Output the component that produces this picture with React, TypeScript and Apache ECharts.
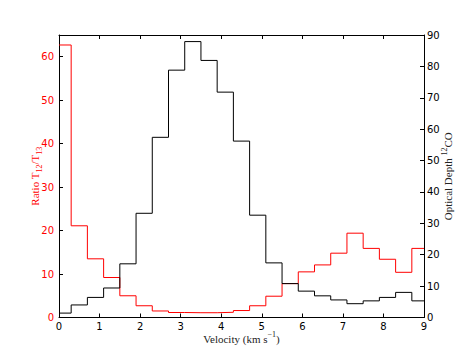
import React, { useEffect, useRef } from "react";
import * as echarts from "echarts";

// Velocity bin starts (km/s); last bin ends at the axis maximum
const binStart = [0, 0.3, 0.7, 1.1, 1.5, 1.9, 2.3, 2.7, 3.1, 3.5, 3.9, 4.3, 4.7, 5.1, 5.5, 5.9, 6.3, 6.7, 7.1, 7.5, 7.9, 8.3, 8.7];
const binEnd = 9;
// Ratio T12/T13 (left axis, red)
const ratio = [62.7, 21.1, 13.5, 9.2, 5.0, 2.7, 1.5, 1.15, 1.1, 1.1, 1.2, 1.6, 2.7, 4.9, 7.8, 10.5, 12.1, 14.8, 19.4, 15.9, 13.4, 10.4, 15.9];
// Optical depth 12CO (right axis, black)
const depth = [1.4, 4.0, 6.4, 9.4, 17.1, 33.2, 57.4, 78.8, 87.9, 81.9, 71.8, 56.2, 32.6, 17.4, 10.8, 8.4, 6.9, 5.6, 4.4, 5.3, 6.4, 8.0, 5.3];
const xTicks = [0, 1, 2, 3, 4, 5, 6, 7, 8, 9];

function steps(vals: number[]): [number, number][] {
  const pts: [number, number][] = binStart.map((x, i) => [x, vals[i]]);
  pts.push([binEnd, vals[vals.length - 1]]);
  return pts;
}

const SANS = "DejaVu Sans";
const SERIF = "Liberation Serif";

export default function App() {
  const ref = useRef<HTMLDivElement>(null);
  useEffect(() => {
    document.body.style.margin = "0";
    const chart = echarts.init(ref.current!, undefined, { renderer: "svg" });
    const tick = { show: true, inside: true, length: 4, lineStyle: { color: "#000", width: 1 } };
    const line = { show: true, onZero: false, lineStyle: { color: "#000", width: 1 } };
    chart.setOption({
      animation: false,
      backgroundColor: "#fff",
      grid: { left: 59, right: 47, top: 35, bottom: 35.5, containLabel: false },
      xAxis: [
        {
          type: "value",
          min: xTicks[0],
          max: xTicks[xTicks.length - 1],
          interval: 1,
          position: "bottom",
          axisLine: line,
          axisTick: tick,
          splitLine: { show: false },
          axisLabel: { color: "#000", fontFamily: SANS, fontSize: 10, margin: 4 },
          name: "{a|Velocity (km s}{p|−1}{a|)}",
          nameLocation: "middle",
          nameMoveOverlap: false,
          nameGap: 13,
          nameTextStyle: {
            rich: {
              a: { fontFamily: SERIF, fontSize: 11, color: "#222", lineHeight: 16, verticalAlign: "middle" },
              p: { fontFamily: SERIF, fontSize: 8, color: "#222", lineHeight: 16, verticalAlign: "top" },
            },
          },
        },
        {
          type: "value",
          min: xTicks[0],
          max: xTicks[xTicks.length - 1],
          interval: 1,
          position: "top",
          axisLine: line,
          axisTick: tick,
          axisLabel: { show: false },
          splitLine: { show: false },
        },
      ],
      yAxis: [
        {
          type: "value",
          min: 0,
          max: 65,
          interval: 10,
          position: "left",
          axisLine: line,
          axisTick: tick,
          splitLine: { show: false },
          axisLabel: {
            color: "#ff0000",
            fontFamily: SANS,
            fontSize: 10,
            margin: 5,
            showMaxLabel: false,
            formatter: (v: number) => (v % 10 === 0 ? String(v) : ""),
          },
          name: "{a|Ratio T}{s|12}{a|/T}{s|13}",
          nameLocation: "middle",
          nameMoveOverlap: false,
          nameRotate: 90,
          nameGap: 16,
          nameTextStyle: {
            rich: {
              a: { fontFamily: SERIF, fontSize: 11, color: "#ff0000", lineHeight: 16, verticalAlign: "middle" },
              s: { fontFamily: SERIF, fontSize: 8, color: "#ff0000", lineHeight: 16, verticalAlign: "bottom" },
            },
          },
        },
        {
          type: "value",
          min: 0,
          max: 90,
          interval: 10,
          position: "right",
          axisLine: line,
          axisTick: tick,
          splitLine: { show: false },
          axisLabel: { color: "#000", fontFamily: SANS, fontSize: 10, margin: 3 },
          name: "{a|Optical Depth }{p|12}{a|CO}",
          nameLocation: "middle",
          nameMoveOverlap: false,
          nameRotate: 90,
          nameGap: 16,
          nameTextStyle: {
            rich: {
              a: { fontFamily: SERIF, fontSize: 11, color: "#222", lineHeight: 16, verticalAlign: "middle" },
              p: { fontFamily: SERIF, fontSize: 8, color: "#222", lineHeight: 16, verticalAlign: "top" },
            },
          },
        },
      ],
      series: [
        {
          type: "line",
          name: "ratio",
          xAxisIndex: 0,
          yAxisIndex: 0,
          step: "end",
          symbol: "none",
          lineStyle: { color: "#ff0000", width: 1 },
          data: steps(ratio),
        },
        {
          type: "line",
          name: "depth",
          xAxisIndex: 0,
          yAxisIndex: 1,
          step: "end",
          symbol: "none",
          lineStyle: { color: "#000", width: 1 },
          data: steps(depth),
        },
      ],
    });
    return () => chart.dispose();
  }, []);
  return <div ref={ref} style={{ width: 471, height: 353, position: "absolute", left: 0, top: 0 }} />;
}
